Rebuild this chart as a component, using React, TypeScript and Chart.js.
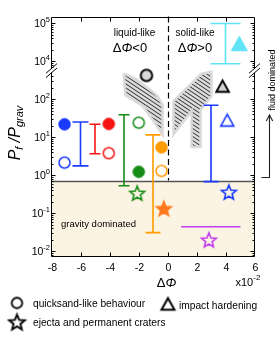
import React, { useEffect, useRef } from "react";
import { Chart, registerables } from "chart.js";

Chart.register(...registerables);

const FONT = '"Liberation Sans", Arial, Helvetica, sans-serif';

const BLUE = "#1a3aff";
const RED = "#f41414";
const GREEN = "#178c17";
const ORANGE = "#ff9a00";
const ORANGE_STAR = "#ff7a1e";
const CYAN = "#5fe3f7";
const MAGENTA = "#c43cf0";
const GRAY_FILL = "#d2d2d2";

// ---- axes ----
const xMin = -8;
const xMax = 6;
const xTicks = [-8, -6, -4, -2, 0, 2, 4, 6];
const yTickExponents = [-2, -1, 0, 1, 2, 4, 5];
const yBottomLog = -2.15;
const yTopLog = 5.17;
const yBreakLog = 2.75; // axis is cut here
const yOmittedDecades = 1; // 10^2.75 .. 10^3.75 hidden
const gravityLimit = 0.72;

// ---- data ----
const filledCircleX = [-7.1, -4.05, -1.98, -0.41];
const filledCircleY = [21.8, 22.3, 1.23, 5.4];
const openCircleX = [-7.1, -4.05, -1.98, -0.41];
const openCircleY = [2.14, 3.8, 24, 1.3];
const grayCircleX = [-1.45];
const grayCircleY = [420];
const errorBarX = [-6, -5, -3, -1, 4, 3];
const errorBarLow = [1.76, 3.67, 0.53, 0.031, 8500, 0.68];
const errorBarHigh = [25, 21.8, 39, 11.5, 97000, 69];
const starX = [-2.09, -0.25, 4.23, 2.85];
const starY = [0.339, 0.134, 0.36, 0.02];
const triangleX = [4.95, 3.8, 4.12];
const triangleY = [29000, 220, 28];
const rangeLineX = [0.94, 5.03];
const rangeLineY = [0.0442, 0.0442];
const liquidZoneX = [-3.03, -2.21, -1.31, -0.69, -0.34, -0.34, -0.97, -1.72, -2.9, -3.03];
const liquidZoneY = [468, 347, 191, 120, 71, 11.7, 26.9, 66, 126, 468];
const solidZoneX = [0.41, 2.34, 3.03, 3.03, 2.28, 2.28, 1.66, 1.66, 0.41, 0.41];
const solidZoneY = [89, 468, 525, 120, 52, 5.5, 5.5, 49, 11.7, 89];

// ---- styles ----
const filledCircleColors = [BLUE, RED, GREEN, ORANGE];
const openCircleColors = [BLUE, RED, GREEN, ORANGE];
const errorBarColors = [BLUE, RED, GREEN, ORANGE, CYAN, BLUE];
const errorBarCapHalf = [8, 5.5, 5.5, 7.5, 15, 7.5];
const starFills = [null, ORANGE_STAR, null, null];
const starStrokes = [GREEN, ORANGE_STAR, BLUE, MAGENTA];
const triangleFills = [CYAN, GRAY_FILL, null];
const triangleStrokes = [CYAN, "#000", BLUE];
const triangleSizes = [16, 12.5, 13];
const triangleLines = [1, 2, 1.6];

function yPos(v: number): number {
  const l = Math.log10(v);
  return l > yBreakLog + yOmittedDecades / 2 ? l - yOmittedDecades : l;
}

type Shape = "circle" | "star" | "triangle";
function makeMarker(shape: Shape, size: number, fill: string | null, stroke: string, lw: number) {
  const dim = Math.ceil(size + lw + 4);
  const c = document.createElement("canvas");
  c.width = dim;
  c.height = dim;
  const g = c.getContext("2d")!;
  const cx = dim / 2;
  const cy = dim / 2;
  g.beginPath();
  if (shape === "circle") {
    g.arc(cx, cy, size / 2, 0, Math.PI * 2);
  } else if (shape === "triangle") {
    const w = size;
    const h = size * 0.9;
    g.moveTo(cx, cy - h / 2);
    g.lineTo(cx + w / 2, cy + h / 2);
    g.lineTo(cx - w / 2, cy + h / 2);
    g.closePath();
  } else {
    const R = size / 2;
    const r = R * 0.44;
    for (let i = 0; i < 10; i++) {
      const a = -Math.PI / 2 + (i * Math.PI) / 5;
      const rr = i % 2 ? r : R;
      const px = cx + Math.cos(a) * rr;
      const py = cy + Math.sin(a) * rr + R * 0.095;
      if (i) g.lineTo(px, py);
      else g.moveTo(px, py);
    }
    g.closePath();
  }
  if (fill) {
    g.fillStyle = fill;
    g.fill();
  }
  g.lineWidth = lw;
  g.strokeStyle = stroke;
  g.lineJoin = "miter";
  g.stroke();
  return c;
}

function makeHatch() {
  const c = document.createElement("canvas");
  c.width = 6;
  c.height = 4;
  const g = c.getContext("2d")!;
  g.fillStyle = "#dadada";
  g.fillRect(0, 0, 6, 4);
  g.strokeStyle = "#1a1a1a";
  g.lineWidth = 0.9;
  for (const dy of [-4, 0, 4]) {
    g.beginPath();
    g.moveTo(0, dy);
    g.lineTo(6, dy + 4);
    g.stroke();
  }
  return g.createPattern(c, "repeat")!;
}

type Part = { t: string; size: number; italic?: boolean; dy?: number };
const fontOf = (p: Part) => `${p.italic ? "italic " : ""}${p.size}px ${FONT}`;
function drawParts(ctx: CanvasRenderingContext2D, parts: Part[], x: number, baseline: number, align: "left" | "center" | "right") {
  let w = 0;
  for (const p of parts) {
    ctx.font = fontOf(p);
    w += ctx.measureText(p.t).width;
  }
  let cx = align === "left" ? x : align === "center" ? x - w / 2 : x - w;
  ctx.textAlign = "left";
  ctx.textBaseline = "alphabetic";
  for (const p of parts) {
    ctx.font = fontOf(p);
    ctx.fillText(p.t, cx, baseline + (p.dy || 0));
    cx += ctx.measureText(p.t).width;
  }
}

function line(ctx: CanvasRenderingContext2D, x1: number, y1: number, x2: number, y2: number) {
  ctx.beginPath();
  ctx.moveTo(x1, y1);
  ctx.lineTo(x2, y2);
  ctx.stroke();
}

const decorPlugin = {
  id: "decor",
  beforeDatasetsDraw(chart: any) {
    const { ctx, chartArea: a, scales } = chart;
    const xs = scales.x;
    const ys = scales.y;
    const gy = Math.round(ys.getPixelForValue(yPos(gravityLimit))) + 0.5;
    ctx.save();
    ctx.fillStyle = "#fcf4e2";
    ctx.fillRect(a.left, gy, a.right - a.left, a.bottom - gy);
    ctx.strokeStyle = "#555";
    ctx.lineWidth = 1.3;
    line(ctx, a.left, gy, a.right, gy);
    const x0 = Math.round(xs.getPixelForValue(0)) + 0.5;
    ctx.strokeStyle = "#000";
    ctx.lineWidth = 1.2;
    ctx.setLineDash([6, 3.5]);
    line(ctx, x0, a.top, x0, gy - 1);
    ctx.restore();
  },
  afterDatasetsDraw(chart: any) {
    const { ctx, chartArea: a, scales } = chart;
    const xs = scales.x;
    const ys = scales.y;
    const L = a.left;
    const R = a.right;
    const T = Math.round(a.top) + 0.5;
    const B = Math.round(a.bottom) - 0.5;
    const brk = ys.getPixelForValue(yBreakLog);
    ctx.save();
    ctx.strokeStyle = "#000";
    ctx.fillStyle = "#000";
    ctx.lineWidth = 1;
    // frame
    line(ctx, L, T, R, T);
    line(ctx, L, B, R, B);
    for (const ax of [L, R]) {
      line(ctx, ax, T, ax, brk - 2);
      line(ctx, ax, brk + 2, ax, B);
    }
    // x ticks
    for (const t of xs.ticks) {
      const px = Math.round(xs.getPixelForValue(t.value)) + 0.5;
      if (px > L + 1 && px < R - 1) {
        line(ctx, px, T, px, T + 4);
        line(ctx, px, B, px, B - 4);
      }
      drawParts(ctx, [{ t: String(t.value), size: 10.5 }], px, 271, "center");
    }
    // y major ticks + labels
    for (const t of ys.ticks) {
      const py = Math.round(ys.getPixelForValue(t.value)) + 0.5;
      line(ctx, L, py, L + 4, py);
      line(ctx, R, py, R - 4, py);
      const e = Math.round(t.value) + (t.value > yBreakLog ? yOmittedDecades : 0);
      drawParts(ctx, [{ t: "10", size: 10.5 }, { t: String(e), size: 7.5, dy: -5 }], 50, py + 3.5, "right");
    }
    // y minor ticks
    for (let d = -3; d <= 5; d++) {
      for (let m = 2; m <= 9; m++) {
        const v = m * Math.pow(10, d);
        const l = Math.log10(v);
        if (l > yBreakLog - 0.08 && l < yBreakLog + yOmittedDecades + 0.09) continue;
        const p = yPos(v);
        if (p <= yBottomLog || p >= yTopLog - yOmittedDecades) continue;
        const py = Math.round(ys.getPixelForValue(p)) + 0.5;
        line(ctx, L, py, L + 2, py);
        line(ctx, R, py, R - 2, py);
      }
    }
    // axis breaks
    for (const ax of [L, R]) {
      ctx.fillStyle = "#fff";
      ctx.fillRect(ax - 1, brk - 1.5, 2, 3);
      ctx.fillStyle = "#000";
      for (const off of [-2.2, 2.2]) line(ctx, ax - 5.5, brk + off + 4.8, ax + 5.5, brk + off - 4.8);
    }
    // annotations
    ctx.fillStyle = "#000";
    drawParts(ctx, [{ t: "liquid-like", size: 10 }], 134.5, 35.5, "center");
    drawParts(ctx, [{ t: "Δ", size: 13 }, { t: "Φ", size: 13, italic: true }, { t: "<0", size: 13 }], 130, 51.5, "center");
    drawParts(ctx, [{ t: "solid-like", size: 10 }], 195, 35.5, "center");
    drawParts(ctx, [{ t: "Δ", size: 13 }, { t: "Φ", size: 13, italic: true }, { t: ">0", size: 13 }], 195, 51.5, "center");
    drawParts(ctx, [{ t: "gravity dominated", size: 9.5 }], 61, 226.5, "left");
    // x axis title and multiplier
    drawParts(ctx, [{ t: "Δ", size: 13 }, { t: "Φ", size: 13, italic: true }], 166.5, 287, "center");
    drawParts(ctx, [{ t: "x10", size: 11 }, { t: "-2", size: 8, dy: -6 }], 235.5, 285.5, "left");
    // y axis title
    ctx.save();
    ctx.translate(19.5, 133);
    ctx.rotate(-Math.PI / 2);
    drawParts(
      ctx,
      [
        { t: "P", size: 16, italic: true },
        { t: "f", size: 11, italic: true, dy: 3.5 },
        { t: " /", size: 16, italic: true },
        { t: "P", size: 16, italic: true },
        { t: "grav", size: 11, italic: true, dy: 3.5 },
      ],
      0,
      0,
      "center"
    );
    ctx.restore();
    // fluid dominated
    ctx.save();
    ctx.translate(275, 80);
    ctx.rotate(-Math.PI / 2);
    drawParts(ctx, [{ t: "fluid dominated", size: 9 }], 0, 0, "center");
    ctx.restore();
    ctx.strokeStyle = "#222";
    ctx.lineWidth = 1.1;
    ctx.beginPath();
    ctx.moveTo(261.5, 177.5);
    ctx.lineTo(269.5, 177.5);
    ctx.lineTo(269.5, 115);
    ctx.stroke();
    ctx.beginPath();
    ctx.moveTo(266.3, 121);
    ctx.lineTo(269.5, 115);
    ctx.lineTo(272.7, 121);
    ctx.stroke();
    // legend
    const lc = makeMarker("circle", 10.5, null, "#000", 1.8);
    const ls = makeMarker("star", 16.5, null, "#000", 1.9);
    const lt = makeMarker("triangle", 13, null, "#000", 2);
    ctx.drawImage(lc, 17 - lc.width / 2, 303 - lc.height / 2);
    ctx.drawImage(ls, 17 - ls.width / 2, 322 - ls.height / 2);
    ctx.drawImage(lt, 168 - lt.width / 2, 304 - lt.height / 2);
    drawParts(ctx, [{ t: "quicksand-like behaviour", size: 10.2 }], 33, 306.6, "left");
    drawParts(ctx, [{ t: "ejecta and permanent craters", size: 10.2 }], 33, 325.6, "left");
    drawParts(ctx, [{ t: "impact hardening", size: 10.2 }], 179, 308.6, "left");
    ctx.restore();
  },
};

export default function App() {
  const ref = useRef<HTMLCanvasElement>(null);
  useEffect(() => {
    document.body.style.margin = "0";
    const canvas = ref.current!;
    const hatch = makeHatch();
    const pts = (xsArr: number[], ysArr: number[]) => xsArr.map((x, i) => ({ x, y: yPos(ysArr[i]) }));

    const datasets: any[] = [];
    // markers (top)
    datasets.push({
      data: pts(filledCircleX, filledCircleY),
      showLine: false,
      pointStyle: filledCircleColors.map((c) => makeMarker("circle", 11.5, c, c, 1)),
      pointRadius: 5,
      order: 0,
    });
    datasets.push({
      data: pts(openCircleX, openCircleY),
      showLine: false,
      pointStyle: openCircleColors.map((c) => makeMarker("circle", 11, null, c, 1.5)),
      pointRadius: 5,
      order: 0,
    });
    datasets.push({
      data: pts(grayCircleX, grayCircleY),
      showLine: false,
      pointStyle: [makeMarker("circle", 11.5, "#d8d8d8", "#000", 2)],
      pointRadius: 5,
      order: 0,
    });
    datasets.push({
      data: pts(starX, starY),
      showLine: false,
      pointStyle: starStrokes.map((c, i) => makeMarker("star", 15.5, starFills[i], c, 1.6)),
      pointRadius: 5,
      order: 0,
    });
    datasets.push({
      data: pts(triangleX, triangleY),
      showLine: false,
      pointStyle: triangleStrokes.map((c, i) => makeMarker("triangle", triangleSizes[i], triangleFills[i], c, triangleLines[i])),
      pointRadius: 5,
      order: 0,
    });
    // error bars
    errorBarX.forEach((x, i) => {
      datasets.push({
        data: [
          { x, y: yPos(errorBarLow[i]) },
          { x, y: yPos(errorBarHigh[i]) },
        ],
        borderColor: errorBarColors[i],
        borderWidth: 1.6,
        pointStyle: "line",
        pointRadius: errorBarCapHalf[i],
        pointBorderWidth: 1.6,
        pointBorderColor: errorBarColors[i],
        order: 1,
      });
    });
    datasets.push({
      data: pts(rangeLineX, rangeLineY),
      borderColor: MAGENTA,
      borderWidth: 1.6,
      pointRadius: 0,
      order: 1,
    });
    // hatched zones
    for (const [zx, zy] of [
      [liquidZoneX, liquidZoneY],
      [solidZoneX, solidZoneY],
    ]) {
      datasets.push({
        data: pts(zx, zy),
        fill: "shape",
        backgroundColor: hatch,
        borderColor: "#dadada",
        borderWidth: 2.5,
        pointRadius: 0,
        tension: 0,
        order: 3,
      });
    }

    const chart = new Chart(canvas, {
      type: "line",
      data: { datasets },
      options: {
        animation: false,
        responsive: false,
        devicePixelRatio: 1,
        layout: { padding: { left: 51.5, right: 25.5, top: 12, bottom: 80 } },
        plugins: { legend: { display: false }, tooltip: { enabled: false } },
        events: [],
        scales: {
          x: {
            type: "linear",
            min: xMin,
            max: xMax,
            afterBuildTicks: (s: any) => {
              s.ticks = xTicks.map((v) => ({ value: v }));
            },
            afterFit: (s: any) => {
              s.height = 0;
            },
            ticks: { display: false },
            grid: { display: false },
            border: { display: false },
          },
          y: {
            type: "linear",
            min: yBottomLog,
            max: yTopLog - yOmittedDecades,
            afterBuildTicks: (s: any) => {
              s.ticks = yTickExponents.map((e) => ({ value: yPos(Math.pow(10, e)) }));
            },
            afterFit: (s: any) => {
              s.width = 0;
            },
            ticks: { display: false },
            grid: { display: false },
            border: { display: false },
          },
        },
      } as any,
      plugins: [decorPlugin],
    });
    return () => chart.destroy();
  }, []);
  return (
    <div style={{ width: 280, height: 337 }}>
      <canvas ref={ref} width={280} height={337} style={{ display: "block", width: 280, height: 337 }} />
    </div>
  );
}
